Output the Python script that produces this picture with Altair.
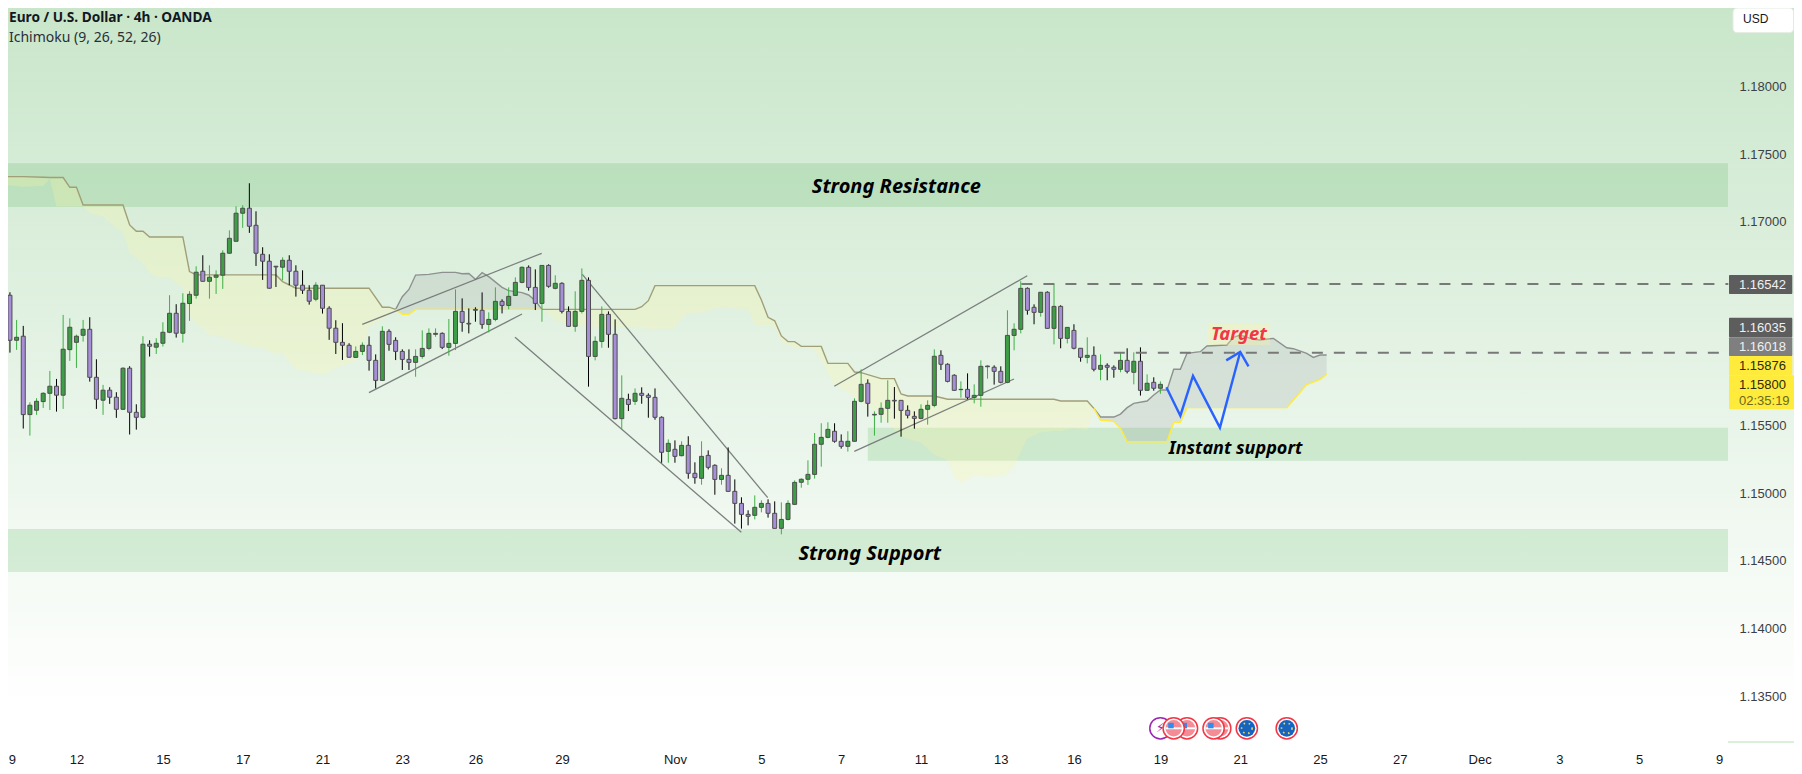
import json
import altair as alt
import pandas as pd

# ---------- OHLC, EUR/USD 4h, in points of 0.00001 ----------
opens = [116368,116459,116127,116157,115579,115611,115675,115736,115788,115722,116058,116112,116164,116208,115854,115685,115759,115707,115618,115921,
115596,115559,116098,116076,116105,116186,116326,116179,116398,116459,116636,116562,116592,116607,116769,116857,117064,117101,116975,116761,
116710,116673,116666,116717,116636,116533,116496,116430,116533,116363,116216,116112,116090,116001,116045,116090,115979,115831,116193,116126,
116045,115986,115964,116008,116067,116171,116178,116075,116104,116340,116252,116355,116348,116244,116281,116414,116384,116458,116554,116665,
116517,116399,116679,116510,116547,116340,116230,116340,116569,116008,116119,116318,116171,115549,115691,115677,115736,115721,115706,115559,
115308,115323,115276,115352,115146,115109,115278,115205,115101,115131,115013,114924,114843,114836,114895,114924,114851,114740,114806,114917,
115080,115102,115138,115360,115411,115456,115382,115345,115382,115677,115810,115576,115581,115625,115684,115684,115610,115566,115551,115618,
115647,116016,115950,115869,115763,115765,115706,115721,115932,115928,115898,115817,116163,116208,116510,116370,116333,116481,116215,116377,
116141,116200,116068,116001,116016,115913,115942,115928,115913,115979,115891,115972,115758,115817,115773]
highs = [116481,116481,116277,116233,115670,115700,115744,115901,115842,116314,116289,116169,116277,116297,115987,115798,115781,115744,115928,115936,
115655,116157,116127,116142,116260,116459,116393,116474,116489,116673,116754,116680,116643,116791,116938,117115,117123,117285,117078,116813,
116761,116673,116739,116754,116680,116643,116533,116555,116533,116378,116275,116253,116105,116082,116112,116156,116023,116230,116208,116149,
116060,116060,116060,116200,116215,116215,116185,116284,116502,116436,116362,116370,116480,116333,116517,116429,116517,116591,116672,116679,
116650,116679,116687,116606,116554,116377,116488,116657,116591,116156,116377,116340,116281,115868,115733,115772,115780,115736,115772,115566,
115396,115389,115382,115419,115227,115382,115315,115212,115183,115337,115101,114969,114873,114983,114947,114954,114939,114932,114947,115094,
115109,115242,115443,115515,115522,115515,115433,115456,115699,115913,115839,115603,115669,115832,115782,115684,115647,115603,115655,115684,
116060,116053,115957,115876,115824,115883,115802,115979,115942,115942,115935,116348,116252,116562,116517,116392,116481,116488,116540,116385,
116222,116245,116068,116149,116082,116023,115957,115942,116038,116068,116038,116075,115876,115854,115824]
lows = [116368,116036,116056,115476,115424,115577,115628,115613,115601,115621,115975,115923,116117,115822,115621,115577,115658,115555,115613,115432,
115468,115550,116007,116026,116081,116179,116147,116110,116270,116434,116560,116434,116469,116506,116764,116855,116956,116919,116675,116572,
116508,116520,116570,116533,116449,116469,116390,116415,116324,116130,116026,115982,115999,115999,116018,115903,115772,115829,116050,115981,
115908,115908,115858,115991,116053,116153,116062,116013,116055,116190,116178,116264,116212,116185,116267,116325,116355,116456,116547,116493,
116350,116264,116515,116502,116325,116227,116190,116325,115785,115979,116072,116072,115544,115470,115605,115650,115659,115556,115541,115224,
115224,115224,115271,115106,115069,115062,115175,114988,115062,115010,114775,114738,114762,114806,114858,114819,114740,114696,114799,114912,
115040,115060,115107,115195,115404,115372,115328,115306,115379,115669,115564,115424,115519,115519,115549,115416,115551,115475,115544,115505,
115633,115908,115817,115755,115704,115692,115662,115637,115844,115800,115810,115810,116053,116178,116316,116245,116301,116213,116097,116068,
116104,116060,115969,115957,115898,115832,115832,115851,115891,115883,115802,115719,115755,115755,115733]
closes = [116459,116127,116149,115579,115648,115677,115736,115788,115722,116061,116223,116157,116208,115854,115692,115759,115707,115618,115921,115596,
115559,116098,116083,116105,116186,116326,116179,116400,116466,116629,116562,116592,116607,116769,116879,117064,117101,116968,116769,116710,
116511,116668,116717,116636,116533,116496,116415,116533,116363,116216,116112,116090,116002,116045,116090,115979,115831,116193,116097,116045,
115986,115964,116008,116067,116178,116178,116075,116104,116340,116259,116247,116348,116244,116281,116414,116384,116451,116554,116665,116517,
116399,116679,116525,116547,116340,116230,116340,116569,116008,116119,116318,116171,115549,115699,115654,115736,115721,115706,115559,115301,
115367,115271,115352,115146,115114,115271,115190,115101,115131,115013,114924,114843,114829,114895,114924,114851,114740,114806,114924,115079,
115102,115138,115360,115411,115470,115382,115345,115382,115677,115802,115662,115581,115625,115684,115679,115610,115574,115551,115618,115647,
116009,115950,115824,115758,115765,115706,115721,115935,115937,115898,115817,116163,116208,116510,116348,116333,116481,116215,116377,116141,
116222,116068,116001,116016,115913,115942,115928,115913,115979,115898,115972,115758,115810,115773,115802]

# ---------- Ichimoku cloud, bar number and points ----------
span_bar = [0,3,6,7,8,9,10,11,12,13,15,17,18,19,20,21,22,23,25,27,28,29,31,33,35,37,39,41,42,44,46,48,50,52,53,54,55,57,58,59,
60,61,62,64,66,68,69,70,71,72,73,75,76,78,79,80,81,
82,83,85,87,90,92,94,95,96,97,98,100,101,102,103,105,107,108,112,113,114,115,116,117,118,119,120,121,122,123,124,125,127,128,129,132,134,135,136,138,140,142,143,144,146,148,150,151,152,153,154,156,158,159,161,163,164,
165,167,168,169,170,172,173,174,175,176,177,178,180,181,184,185,186,188,189,191,193,194,196,197,198,199]
span_upper = [117334,117334,117329,117327,117327,117327,117255,117255,117125,117125,117125,117125,117125,116978,116931,116931,116889,116889,116889,116889,116634,116609,116609,116609,116609,116609,116609,116609,116560,116511,116511,116511,116511,116511,116511,116511,116511,116371,116371,116355,
116448,116502,116608,116613,116628,116628,116618,116620,116576,116625,116596,116517,116493,116478,116461,116419,116355,
116355,116355,116355,116355,116355,116355,116355,116355,116375,116419,116530,116530,116530,116530,116530,116530,116530,116530,116530,116530,116424,116296,116271,116159,116117,116117,116082,116082,116082,116082,115957,115957,115957,115893,115888,115844,115844,115731,115716,115716,115716,115692,115692,115692,115692,115692,115692,115692,115692,115692,115692,115692,115692,115679,115679,115679,115625,
115561,115561,115583,115630,115662,115679,115724,115760,115760,115913,115913,116031,116043,116085,116092,116149,116166,116134,116129,116141,116072,116065,116031,116001,116018,116018]
span_lower = [117273,117260,117265,117319,117113,117113,117113,117113,117113,117064,117039,116953,116929,116769,116732,116695,116621,116597,116592,116511,116314,116253,116167,116149,116110,116085,116068,116026,116026,115913,115896,115872,115921,115958,115970,116056,116228,116282,116314,116355,
116318,116318,116355,116355,116355,116355,116355,116355,116355,116355,116355,116355,116355,116355,116355,116355,116355,
116321,116271,116249,116235,116215,116225,116227,116222,116217,116210,116210,116212,116215,116289,116326,116333,116362,116370,116355,116239,116235,116232,116227,116117,116087,116075,116075,116075,116055,115982,115883,115797,115748,115699,115674,115576,115465,115416,115399,115372,115281,115244,115121,115077,115134,115121,115126,115146,115195,115306,115404,115446,115458,115458,115478,115465,115625,
115539,115529,115478,115379,115379,115379,115379,115379,115379,115522,115522,115630,115630,115630,115630,115630,115630,115630,115630,115630,115630,115687,115800,115819,115839,115876]
cloud_segments = [(0,59,"bear"),(59,81,"bull"),(81,164,"bear"),(164,199,"bull")]

# ---------- Time axis ----------
tick_bars = [1.3,11,24,36,48,60,71,84,101,114,126,138,150,161,174,186,198,210,222,234,246,258]
tick_text = ["9","12","15","17","21","23","26","29","Nov","5","7","11","13","16","19","21","25","27","Dec","3","5","9"]
price_ticks = [1.135,1.14,1.145,1.15,1.155,1.17,1.175,1.18]

# ---------- Drawings ----------
zones = [("Strong Resistance",1.17432,1.17110,-1),("Strong Support",1.14735,1.14418,-1),("Instant support",1.15482,1.15238,130)]
trendlines = [
 (53.98,1.162448,80.96,1.167684),(54.99,1.157404,78.0,1.163208),
 (87.07,1.166136,114.95,1.149661),(76.95,1.16149,110.98,1.147109),
 (124.96,1.157876,153.98,1.166032),(127.97,1.153083,151.98,1.158414)]
dashed_levels = [(153.1,259.4,1.16542),(167,258,1.16035)]
zigzag_bar = [174.9,177,178.9,182.95,186]
zigzag_price = [1.15780,1.15571,1.15864,1.15483,1.16041]
arrow_bar = [183.9,186,187.25]
arrow_price = [1.15979,1.16041,1.15935]
notes = [("Strong Resistance",134.3,1.17258,"#000000",20),("Strong Support",130.3,1.14554,"#000000",20),
         ("Instant support",185.3,1.15324,"#000000",18),("Target",185.8,1.16170,"#f23645",18.5)]
us_events = [183,182,178,176]
eu_events = [187,193]
other_events = [174]

W, H = 1786, 758
DOM_X = [(0 + 4.7) / 6.65, (W + 4.7) / 6.65]
DOM_Y = [1.18 - 679.7 / 13560, 1.18 + 78.3 / 13560]
xs = alt.Scale(domain=DOM_X, nice=False, zero=False, padding=0)
ys = alt.Scale(domain=DOM_Y, nice=False, zero=False, padding=0)
FONT = "Liberation Sans"
NOTE_FONT = "Noto Sans"

axis_x = alt.Axis(values=tick_bars, labelExpr=json.dumps({str(b): t for b, t in zip(tick_bars, tick_text)}) + "[datum.value]",
                  orient="bottom", offset=-24, domain=False, ticks=False, grid=False, labelPadding=11, title=None, zindex=1,
                  labelFont=FONT, labelFontSize=13, labelColor="#131722", labelAngle=0, labelOverlap=False, labelFlush=False)
axis_y = alt.Axis(values=price_ticks, format=".5f", orient="right", offset=-(W - 1731), domain=False, ticks=False, grid=False, zindex=1,
                  labelPadding=0, labelAlign="left", title=None, labelFont=FONT, labelFontSize=13, labelColor="#3c3f46", labelOverlap=False)
X = lambda f="bar": alt.X(f"{f}:Q", scale=xs, axis=axis_x)
Y = lambda f="price": alt.Y(f"{f}:Q", scale=ys, axis=axis_y)

candles = pd.DataFrame({"bar": range(len(opens)), "open": opens, "high": highs, "low": lows, "close": closes})
for c in ["open", "high", "low", "close"]:
    candles[c] = candles[c] / 1e5
up = candles["close"] >= candles["open"]
candles["wick"] = ["#3fb045" if u else "#000000" for u in up]
candles["body"] = ["#3d9e45" if u else "#a78fd8" for u in up]

span = pd.DataFrame({"bar": span_bar, "upper": span_upper, "lower": span_lower})
span["upper"] /= 1e5
span["lower"] /= 1e5
parts = []
for a, b, kind in cloud_segments:
    p = span[(span.bar >= a) & (span.bar <= b)].copy()
    p["seg"] = f"{a}"
    p["fill"] = "#fff59d" if kind == "bear" else "#787b86"
    p["alpha"] = 0.24 if kind == "bear" else 0.15
    p["edge"] = "#a09f78" if kind == "bear" else "#8e9090"
    p["kind"] = kind
    parts.append(p)
cloud = pd.concat(parts)

layers = []
# background gradient
layers.append(alt.Chart(pd.DataFrame({"a": [0]})).mark_rect(
    color=alt.Gradient(gradient="linear", x1=0, x2=0, y1=0, y2=1,
                       stops=[alt.GradientStop(color="#c9e6ca", offset=0), alt.GradientStop(color="#ffffff", offset=1)])
).encode(x=alt.value(0), x2=alt.value(W), y=alt.value(0), y2=alt.value(702)))

# zones
zdf = pd.DataFrame(zones, columns=["name", "top", "bottom", "start"])
layers.append(alt.Chart(zdf).mark_rect(color="#4caf50", opacity=0.19, clip=True).encode(
    x=X("start"), x2=alt.value(1720), y=Y("top"), y2="bottom:Q"))

# cloud
layers.append(alt.Chart(cloud).mark_area(interpolate="linear", clip=True).encode(
    x=X(), y=Y("upper"), y2="lower:Q", detail="seg:N",
    color=alt.Color("fill:N", scale=None), opacity=alt.Opacity("alpha:Q", scale=None)))
layers.append(alt.Chart(cloud).mark_line(strokeWidth=1.4, clip=True).encode(
    x=X(), y=Y("upper"), detail="seg:N", order="bar:Q", color=alt.Color("edge:N", scale=None)))
layers.append(alt.Chart(cloud[cloud.kind == "bull"]).mark_line(strokeWidth=1.4, color="#ffeb3b", clip=True).encode(
    x=X(), y=Y("lower"), detail="seg:N", order="bar:Q"))

# trend lines
tl = pd.DataFrame([{"id": i, "bar": b, "price": p} for i, t in enumerate(trendlines) for b, p in ((t[0], t[1]), (t[2], t[3]))])
layers.append(alt.Chart(tl).mark_line(color="#6f7272", strokeWidth=1.3, opacity=0.9).encode(x=X(), y=Y(), detail="id:N"))

# candles
layers.append(alt.Chart(candles).mark_rule(strokeWidth=1, clip=True).encode(
    x=X(), y=Y("low"), y2="high:Q", color=alt.Color("wick:N", scale=None)))
layers.append(alt.Chart(candles).mark_bar(size=4, stroke="#4d4d4d", strokeWidth=1, clip=True).encode(
    x=X(), y=Y("open"), y2="close:Q", color=alt.Color("body:N", scale=None)))

# dashed levels
dl = pd.DataFrame([{"id": i, "bar": b, "price": p} for i, (a, z, p) in enumerate(dashed_levels) for b in (a, z)])
layers.append(alt.Chart(dl).mark_line(color="#787878", strokeWidth=2, strokeDash=[11, 11]).encode(x=X(), y=Y(), detail="id:N"))

# projection
layers.append(alt.Chart(pd.DataFrame({"bar": zigzag_bar, "price": zigzag_price})).mark_line(color="#2962ff", strokeWidth=2.4, strokeJoin="miter").encode(x=X(), y=Y(), order="bar:Q"))
layers.append(alt.Chart(pd.DataFrame({"bar": arrow_bar, "price": arrow_price})).mark_line(color="#2962ff", strokeWidth=2.4, strokeJoin="miter").encode(x=X(), y=Y(), order="bar:Q"))

# Target label background and notes
layers.append(alt.Chart(pd.DataFrame({"t": ["Target"]})).mark_rect(color="#fff59d", opacity=0.3).encode(
    x=alt.value(1199), x2=alt.value(1262), y=alt.value(315), y2=alt.value(337)))
ndf = pd.DataFrame(notes, columns=["text", "bar", "price", "col", "fs"])
layers.append(alt.Chart(ndf).mark_text(font=NOTE_FONT, fontStyle="italic", fontWeight="bold", align="center", baseline="middle").encode(
    x=X(), y=Y(), text="text:N", color=alt.Color("col:N", scale=None), size=alt.Size("fs:Q", scale=None)))

# bottom axis hairline under the price scale
layers.append(alt.Chart(pd.DataFrame({"a": [0]})).mark_rule(color="#b5e0b5", strokeWidth=1).encode(
    x=alt.value(1720), x2=alt.value(W), y=alt.value(734)))

# event badges
EV_Y = 720.3
def ev(bars, **kw):
    return alt.Chart(pd.DataFrame({"bar": bars})).mark_point(shape=kw.pop("shape", "circle"), filled=kw.pop("filled", True), **kw).encode(
        x=X(), y=alt.value(EV_Y))
layers.append(ev(other_events, size=452, fill="#ffffff", stroke="#9c27b0", strokeWidth=1.5, opacity=1))
layers.append(alt.Chart(pd.DataFrame({"bar": other_events, "t": ["⚡"]})).mark_text(color="#9c27b0", fontSize=13, font="DejaVu Sans").encode(
    x=X(), y=alt.value(EV_Y), text="t:N"))
for b in us_events:
    layers.append(ev([b], size=452, fill="#ffffff", stroke="#f23645", strokeWidth=1.5, opacity=1))
    layers.append(ev([b], size=270, fill="#f58b94", opacity=1))
    layers.append(ev([b], shape="M-1,-0.12H1V0.12H-1Z", size=270, fill="#ffffff", opacity=1))
    layers.append(ev([b], shape="M-1,-1H0V0H-1Z", size=120, fill="#2f8cf0", opacity=1))
for b in eu_events:
    layers.append(ev([b], size=452, fill="#ffffff", stroke="#f23645", strokeWidth=1.5, opacity=1))
    layers.append(ev([b], size=280, fill="#1565c0", opacity=1))
    layers.append(alt.Chart(pd.DataFrame({"bar": [b]})).mark_point(shape="circle", filled=False, size=110, stroke="#ffd54f", strokeWidth=1.6, strokeDash=[1.5, 3.7], opacity=1).encode(
        x=X(), y=alt.value(EV_Y)))

# price tags
def tag(text, x0, x1, y0, y1, fill):
    return alt.Chart(pd.DataFrame({"t": [text]})).mark_rect(color=fill, cornerRadius=1).encode(
        x=alt.value(x0 - 8), x2=alt.value(x1 - 8), y=alt.value(y0 - 8), y2=alt.value(y1 - 8))

def tag_text(text, y, ink, size=13):
    return alt.Chart(pd.DataFrame({"t": [text]})).mark_text(font=FONT, fontSize=size, align="left", baseline="middle", color=ink).encode(
        x=alt.value(1731), y=alt.value(y - 8), text="t:N")

layers.append(tag("1.16542", 1729, 1792.3, 275, 294, "#5d5d5d"))
layers.append(tag("1.16035", 1729, 1792.3, 317.7, 337.3, "#5d5d5d"))
layers.append(tag("1.16018", 1729, 1792.3, 337.3, 356, "#7f7f7f"))
layers.append(tag("1.15876", 1729, 1792.3, 356, 375.3, "#ffeb3b"))
layers.append(tag("1.15800", 1729, 1794, 375.3, 409.3, "#ffeb3b"))
layers.append(tag_text("1.16542", 285, "#f0f0f0"))
layers.append(tag_text("1.16035", 328, "#f0f0f0"))
layers.append(tag_text("1.16018", 347, "#f0f0f0"))
layers.append(tag_text("1.15876", 366, "#2a2a10"))
layers.append(tag_text("1.15800", 385, "#2a2a10"))
layers.append(tag_text("02:35:19", 401, "#6b6a20"))

# currency button
layers.append(alt.Chart(pd.DataFrame({"t": ["USD"]})).mark_rect(color="#ffffff", cornerRadius=4, stroke="#e2ebe2", strokeWidth=1).encode(
    x=alt.value(1725), x2=alt.value(1785.5), y=alt.value(0), y2=alt.value(24.7)))
layers.append(alt.Chart(pd.DataFrame({"t": ["USD"]})).mark_text(font=FONT, fontSize=12, align="left", baseline="middle", color="#131722").encode(
    x=alt.value(1735), y=alt.value(11.3), text="t:N"))

# legend lines
layers.append(alt.Chart(pd.DataFrame({"t": ["Euro / U.S. Dollar · 4h · OANDA"]})).mark_text(font="Noto Sans", fontSize=13.7, fontWeight="bold", align="left", baseline="middle", color="#131722").encode(
    x=alt.value(1), y=alt.value(10), text="t:N"))
layers.append(alt.Chart(pd.DataFrame({"t": ["Ichimoku (9, 26, 52, 26)"]})).mark_text(font="Noto Sans", fontSize=14, align="left", baseline="middle", color="#2a2e39").encode(
    x=alt.value(1), y=alt.value(30), text="t:N"))

chart = alt.layer(*layers).properties(
    width=W, height=H, padding=0, background="#ffffff",
    autosize=alt.AutoSizeParams(type="none", contains="padding")
).configure_view(stroke=None, fill=None)

chart.save("out.html", embed_options={"renderer": "svg", "actions": False})
